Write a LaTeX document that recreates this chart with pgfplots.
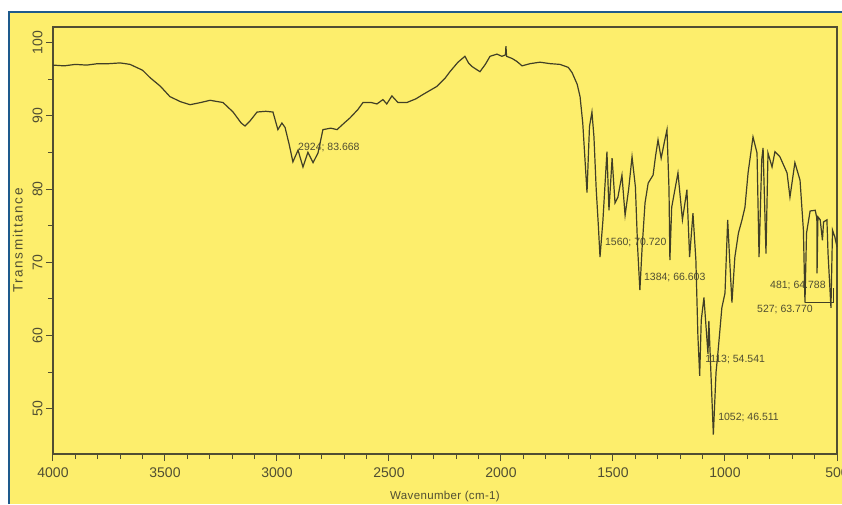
\documentclass[border=0pt]{standalone}
\usepackage{pgfplots}
\pgfplotsset{compat=1.18}
\usepackage{fontspec}
\setmainfont{Liberation Sans}
\definecolor{bgyellow}{RGB}{253,238,108}
\definecolor{frameblue}{RGB}{30,90,140}
\definecolor{specline}{RGB}{65,63,38}
\definecolor{axcol}{RGB}{80,78,50}
\definecolor{anncol}{RGB}{80,78,50}
\begin{document}
\begin{tikzpicture}[x=1pt,y=1pt]
\fill[white] (0,0) rectangle (842,504);
\fill[bgyellow] (9,0) rectangle (842,492);
\draw[frameblue, line width=2.5pt] (9,0) -- (9,492) -- (842,492);
\begin{axis}[
  at={(53pt,50pt)}, anchor=south west,
  scale only axis, width=784pt, height=427pt,
  xmin=500, xmax=4000, x dir=reverse,
  ymin=43.85, ymax=102.1,
  xtick={500,1000,...,4000},
  xticklabels={500,1000,1500,2000,2500,3000,3500,4000},
  minor x tick num=4,
  ytick={50,60,...,100},
  minor y tick num=1,
  tick pos=left, tick align=outside,
  major tick length=7pt, minor tick length=5pt,
  axis line style={axcol, line width=1.3pt},
  every tick/.style={axcol, line width=1pt},
  /pgf/number format/assume math mode=true,
  xticklabel style={font=\fontsize{14}{15}\selectfont, text=axcol, yshift=-3pt},
  yticklabel style={font=\fontsize{14}{15}\selectfont, text=axcol, rotate=90, anchor=south},
  xlabel={Wavenumber (cm-1)},
  ylabel={Transmittance},
  xlabel style={font=\fontsize{11.5}{12}\selectfont\addfontfeatures{LetterSpace=3}, text=axcol, yshift=-7pt},
  ylabel style={font=\fontsize{13.5}{14}\selectfont\addfontfeatures{LetterSpace=12}, text=axcol, yshift=3pt},
  clip=false,
]
\addplot[specline, line width=1.2pt] coordinates {
(4000,96.9) (3950,96.8) (3900,97.0) (3850,96.9) (3800,97.1) (3750,97.1)
(3700,97.2) (3656,97.0) (3600,96.2) (3567,95.2) (3520,94.0) (3478,92.6)
(3430,91.9) (3388,91.5) (3340,91.8) (3299,92.1) (3241,91.8) (3196,90.5)
(3160,89.0) (3143,88.6) (3120,89.3) (3089,90.5) (3050,90.6) (3018,90.5)
(2996,88.1) (2978,89.0) (2964,88.4) (2945,86.0) (2929,83.7) (2906,85.3)
(2884,83.0) (2862,85.0) (2839,83.6) (2817,84.9) (2795,88.1) (2760,88.3)
(2732,88.1) (2700,89.0) (2674,89.7) (2640,90.8) (2616,91.8) (2580,91.8)
(2554,91.6) (2527,92.2) (2510,91.6) (2487,92.7) (2460,91.8) (2420,91.8)
(2380,92.3) (2348,92.9) (2286,94.0) (2250,95.1) (2228,96.0) (2192,97.3)
(2161,98.1) (2145,97.2) (2129,96.7) (2094,96.0) (2070,97.0) (2049,98.1)
(2018,98.4) (1996,98.1) (1980,98.3) (1978,99.5) (1975,98.1) (1950,97.8)
(1929,97.4) (1906,96.8) (1870,97.1) (1826,97.3) (1780,97.1) (1737,97.0)
(1700,96.6) (1683,95.9) (1660,94.3) (1647,92.6) (1635,89.0) (1625,84.0)
(1616,79.5) (1610,84.5) (1605,88.5) (1594,90.5) (1585,87.1) (1575,80.0)
(1565,74.8) (1558,70.7) (1545,75.7) (1527,85.1) (1518,77.1) (1504,84.2)
(1491,78.1) (1478,78.9) (1460,81.9) (1446,76.4) (1430,80.0) (1415,84.4)
(1400,80.3) (1390,72.0) (1380,66.2) (1370,72.0) (1357,78.1) (1343,80.8)
(1321,81.9) (1310,84.5) (1299,86.7) (1285,84.2) (1270,86.5) (1259,88.1)
(1250,80.0) (1246,70.3) (1238,77.5) (1210,82.2) (1190,75.8) (1170,79.9)
(1158,70.7) (1143,76.7) (1130,70.3) (1121,60.0) (1113,54.5) (1106,62.1)
(1094,65.2) (1076,57.5) (1072,62.0) (1052,46.5) (1040,55.0) (1032,57.5)
(1014,63.8) (1000,65.8) (988,75.8) (979,70.3) (969,64.5) (956,70.7)
(940,74.0) (924,75.8) (911,77.5) (897,82.2) (875,87.1) (857,84.9)
(848,70.7) (836,84.0) (830,85.6) (817,71.2) (808,84.9) (790,83.0)
(777,85.1) (755,84.4) (723,82.2) (710,78.9) (688,83.6) (665,81.2)
(650,74.4) (643,64.5) (636,74.0) (620,77.0) (597,77.1) (590,76.0)
(589,68.5) (585,76.2) (575,75.8) (565,73.0) (560,75.5) (545,75.8)
(540,71.2) (527,63.8) (520,74.4) (510,73.5) (500,72.1)
};
\draw[specline, line width=0.8pt] (axis cs:643,64.5) -- (axis cs:514,64.5) -- (axis cs:514,66.5);
\begin{scope}[every node/.style={font=\fontsize{10.5}{11}\selectfont, text=anncol, anchor=west, inner sep=0pt}]
\node at (axis cs:2906,85.7) {2924; 83.668};
\node at (axis cs:1536,72.7) {1560; 70.720};
\node at (axis cs:1362,67.9) {1384; 66.603};
\node at (axis cs:1089,56.7) {1113; 54.541};
\node at (axis cs:1031,48.8) {1052; 46.511};
\node at (axis cs:799,66.9) {481; 64.788};
\node at (axis cs:857,63.5) {527; 63.770};
\end{scope}
\end{axis}
\pgfresetboundingbox
\useasboundingbox (0,0) rectangle (842,504);
\end{tikzpicture}
\end{document}
